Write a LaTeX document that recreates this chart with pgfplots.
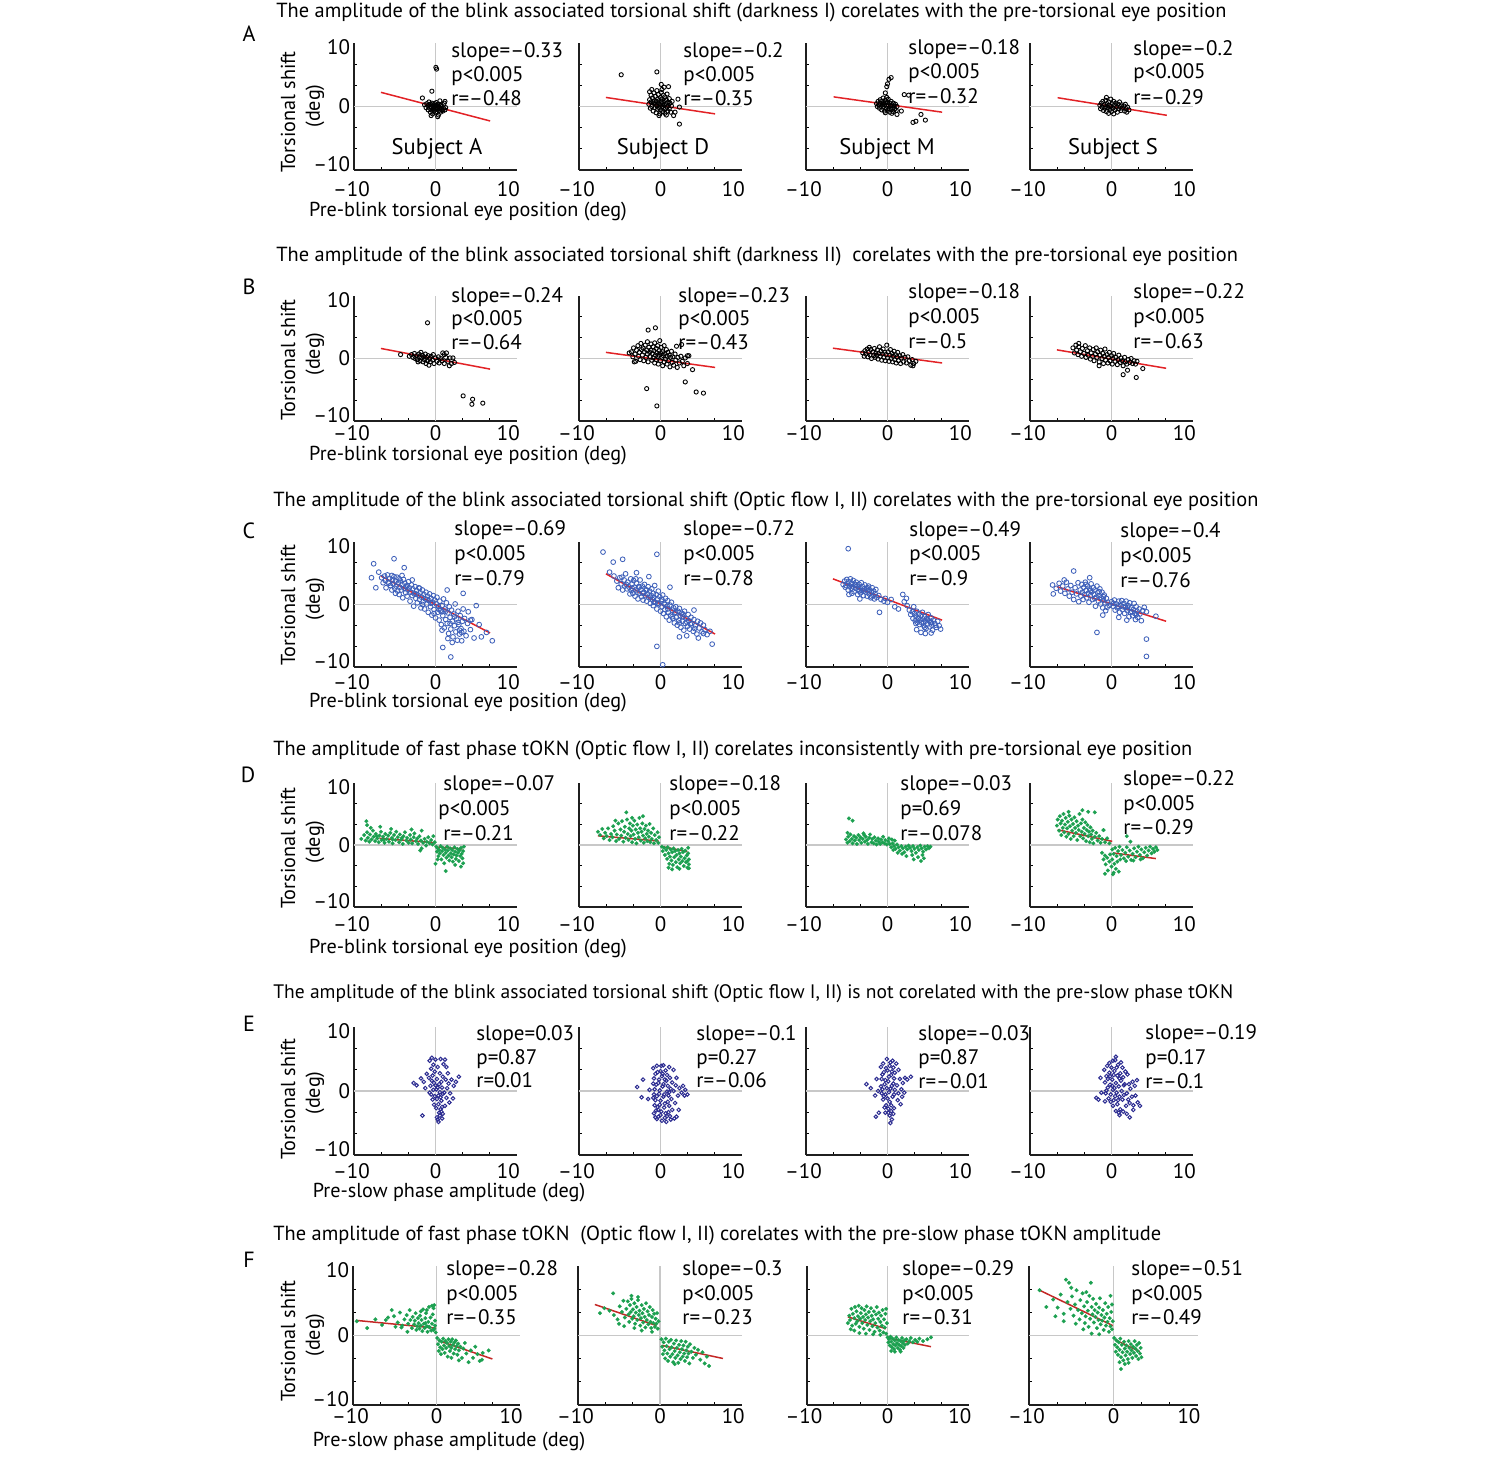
\documentclass[border=0pt]{standalone}
\usepackage{fontspec}
\setmainfont{PT Sans}
\usepackage{pgfplots}
\pgfplotsset{compat=1.18}
\definecolor{ptblue}{RGB}{62,96,186}
\definecolor{navy}{RGB}{44,44,145}
\definecolor{grn}{RGB}{28,160,80}
\definecolor{rline}{RGB}{226,34,38}
\definecolor{rdark}{RGB}{196,40,38}
\definecolor{zgray}{RGB}{200,200,200}
\newcommand\tkf{\fontsize{10.5}{12}\selectfont}
\newcommand\labf{\fontsize{10.1}{12}\selectfont}
\newcommand\ttlf{\fontsize{10.2}{12}\selectfont}
\newcommand\subf{\fontsize{11.3}{13}\selectfont}
\newcommand\letf{\fontsize{11}{13}\selectfont}
\pgfplotsset{
  base/.style={
    scale only axis, width=81.5pt, height=62.5pt, anchor=south west,
    xmin=-11.2, xmax=11.2, ymin=-11.2, ymax=11.2,
    axis x line*=bottom, axis y line*=left,
    axis line style={line width=0.9pt, black!88},
    tick align=inside,
    xtick={-11.2,0,10}, xticklabels={–10\kern2.6pt,0,10},
    ytick={-10.2,0,10.5}, yticklabels={},
    major tick length=0pt,
    minor xtick={-7.4667,-3.7333,3.7333,7.4667},
    minor ytick={-7.4667,-3.7333,3.7333,7.4667},
    minor tick length=1.6pt,
    every tick/.append style={black, line width=0.5pt},
    tick label style={font=\tkf},
    xticklabel style={anchor=center},
    yticklabel style={anchor=east, inner sep=0pt, xshift=-1.8pt},
    clip=false,
  },
  ylab/.style={yticklabels={–10,0,10}},
  xs/.style={xticklabel style={yshift=#1}},
  ko/.style={only marks, black, mark=o, mark size=1.05pt, mark options={line width=0.45pt}},
  bo/.style={only marks, ptblue, mark=o, mark size=1.2pt, mark options={line width=0.42pt}},
  no/.style={only marks, navy, mark=o, mark size=0.9pt, mark options={line width=0.5pt}},
  gd/.style={only marks, grn, mark=*, mark size=0.95pt, mark options={fill=grn, draw=grn, line width=0.1pt}},
  rl/.style={no marks, rline, line width=0.75pt},
  rd/.style={no marks, rdark, line width=0.75pt},
}
\newcommand\zl{\addplot[zgray, line width=0.8pt, forget plot] coordinates {(-11.2,0) (11.2,0)};\addplot[zgray, line width=0.8pt, forget plot] coordinates {(0,-11.2) (0,11.2)};}
\tikzset{an/.style={anchor=base west, inner sep=0pt, font=\tkf},
 ttl/.style={anchor=base west, inner sep=0pt, font=\ttlf},
 xl/.style={anchor=base, inner sep=0pt, font=\labf},
 yl/.style={rotate=90, inner sep=0pt, font=\labf},
 lt/.style={anchor=base, inner sep=0pt, font=\letf}}
\begin{document}
\begin{tikzpicture}
\path[use as bounding box] (0pt,0pt) rectangle (750pt,-728.5pt);
%%%%%%%%%%%%%%%% ROW A
\begin{axis}[base, at={(177pt,-85pt)}, height=63.5pt, ylab, xs=-9.5pt]
\zl
\addplot[ko] coordinates {(-1.5,0.3)(-1.3,-0.2)(-1.2,0.5)(-1.0,-0.6)(-1.0,0.1)(-0.9,0.8)(-0.8,-0.3)(-0.7,-1.0)(-0.7,0.4)(-0.6,-0.1)(-0.5,0.6)(-0.5,-0.6)(-0.4,0.1)(-0.4,-1.3)(-0.3,-0.4)(-0.3,0.3)(-0.2,-0.8)(-0.2,0.0)(-0.1,0.5)(-0.1,-0.3)(0.0,-1.1)(0.0,0.2)(0.1,-0.5)(0.1,0.7)(0.2,-0.1)(0.2,-0.9)(0.3,0.3)(0.3,-0.4)(0.4,-1.5)(0.4,0.0)(0.5,-0.7)(0.5,0.4)(0.6,-0.2)(0.7,-1.0)(0.7,0.2)(0.8,-0.5)(0.9,0.0)(1.0,-0.8)(1.1,-0.3)(1.2,0.6)(1.3,-0.6)(1.4,-0.2)(0.3,-1.8)(-0.6,-1.6)(0.05,6.9)(0.15,6.6)(-0.5,2.7)(-1.8,1.5)(1.3,0.9)(0.6,1.0)};
\addplot[rl] coordinates {(-7.5,2.5) (7.5,-2.55)};
\end{axis}
\begin{axis}[base, at={(289.5pt,-85pt)}, height=63.5pt, xs=-9.5pt]
\zl
\addplot[ko] coordinates {(-1.6,0.4)(-1.5,1.2)(-1.4,-0.3)(-1.3,0.8)(-1.3,2.0)(-1.2,0.0)(-1.1,1.5)(-1.0,-0.8)(-1.0,0.6)(-0.9,2.4)(-0.9,1.0)(-0.8,-0.2)(-0.7,0.4)(-0.7,1.8)(-0.6,-1.1)(-0.6,0.9)(-0.5,0.1)(-0.5,2.8)(-0.4,1.3)(-0.4,-0.5)(-0.3,0.6)(-0.3,2.1)(-0.2,-0.2)(-0.2,1.0)(-0.1,-1.3)(-0.1,0.3)(0.0,1.6)(0.0,-0.6)(0.1,0.8)(0.1,2.5)(0.2,0.0)(0.2,1.3)(0.3,-0.9)(0.3,0.5)(0.4,2.0)(0.4,-0.3)(0.5,1.0)(0.5,0.2)(0.6,-1.2)(0.6,1.7)(0.7,0.5)(0.7,-0.4)(0.8,1.2)(0.9,-0.1)(0.9,2.2)(1.0,0.7)(1.0,-0.8)(1.1,0.2)(1.2,1.4)(1.2,-0.4)(1.3,0.6)(1.4,-1.0)(1.5,0.1)(1.6,0.9)(0.2,3.0)(-0.2,-1.6)(0.8,-1.5)(-5.4,5.6)(-0.5,6.1)(1.1,3.5)(2.4,1.3)(2.6,-0.1)(2.6,-3.1)(1.8,-1.6)(2.0,-1.0)(-1.5,2.6)(-1.2,3.0)(0.1,3.9)(0.5,3.4)};
\addplot[rl] coordinates {(-7.5,1.6) (7.5,-1.3)};
\end{axis}
\begin{axis}[base, at={(403pt,-85pt)}, height=63.5pt, xs=-9.5pt]
\zl
\addplot[ko] coordinates {(-1.5,0.5)(-1.4,0.0)(-1.3,0.9)(-1.2,0.3)(-1.1,-0.3)(-1.0,1.2)(-1.0,0.6)(-0.9,0.0)(-0.8,0.9)(-0.8,-0.6)(-0.7,0.4)(-0.6,1.5)(-0.6,-0.1)(-0.5,0.7)(-0.4,-0.8)(-0.4,0.3)(-0.3,1.1)(-0.2,-0.3)(-0.2,0.6)(-0.1,1.6)(-0.1,0.1)(0.0,-0.7)(0.0,0.8)(0.1,0.3)(0.1,1.3)(0.2,-0.4)(0.3,0.6)(0.3,-1.0)(0.4,0.1)(0.5,0.9)(0.5,-0.5)(0.6,0.3)(0.7,-0.2)(0.8,0.6)(0.8,-0.9)(0.9,0.1)(1.0,-0.4)(1.1,0.4)(1.2,-0.7)(1.3,0.0)(0.6,-1.2)(-0.3,-1.1)(0.2,4.8)(0.5,5.1)(0.0,4.0)(-0.1,3.5)(2.3,2.1)(2.9,2.0)(3.9,-2.6)(4.6,-1.4)(3.5,-2.8)(5.2,-2.4)(1.3,-1.4)(1.9,-0.8)(-0.3,2.4)};
\addplot[rl] coordinates {(-7.4,1.7) (7.5,-1.0)};
\end{axis}
\begin{axis}[base, at={(515pt,-85pt)}, height=63.5pt, xs=-9.5pt]
\zl
\addplot[ko] coordinates {(-1.6,0.2)(-1.5,-0.4)(-1.4,0.6)(-1.3,-0.1)(-1.2,0.9)(-1.1,-0.7)(-1.0,0.3)(-0.9,-0.3)(-0.8,1.1)(-0.8,0.0)(-0.7,-0.9)(-0.6,0.5)(-0.5,-0.2)(-0.4,0.8)(-0.4,-1.2)(-0.3,0.2)(-0.2,-0.5)(-0.1,1.3)(-0.1,0.0)(0.0,-0.9)(0.1,0.5)(0.2,-0.3)(0.3,0.9)(0.3,-1.3)(0.4,0.2)(0.5,-0.6)(0.6,0.6)(0.7,-0.1)(0.8,-1.0)(0.9,0.4)(1.0,-0.4)(1.1,0.8)(1.2,0.0)(1.3,-0.7)(1.4,0.3)(1.5,-0.3)(1.7,0.1)(1.8,-0.8)(1.9,0.4)(2.0,-0.4)(2.2,-0.1)(2.4,-0.6)(-0.7,1.6)(2.1,-1.0)};
\addplot[rl] coordinates {(-7.4,1.55) (7.6,-1.55)};
\end{axis}
%%%%%%%%%%%%%%%% ROW B
\begin{axis}[base, at={(177pt,-210.5pt)}, height=62.5pt, ylab, xs=-6.3pt]
\zl
\addplot[ko] coordinates {(-3.6,0.4)(-3.3,0.7)(-3.1,0.2)(-2.9,0.9)(-2.8,0.0)(-2.6,0.5)(-2.5,-0.2)(-2.3,0.8)(-2.2,0.3)(-2.1,-0.4)(-2.0,1.1)(-1.9,0.1)(-1.8,0.6)(-1.7,-0.6)(-1.6,0.3)(-1.5,-0.2)(-1.4,0.8)(-1.3,-0.9)(-1.2,0.2)(-1.1,-0.4)(-1.0,0.5)(-0.9,-1.2)(-0.8,0.0)(-0.7,-0.6)(-0.6,0.4)(-0.4,-0.3)(-0.3,0.7)(-0.2,-0.9)(0.0,0.1)(0.2,-0.5)(0.4,0.3)(0.5,-0.8)(0.7,0.0)(0.9,-0.4)(1.0,1.0)(1.2,-0.9)(1.4,0.2)(1.5,1.0)(1.7,-0.5)(1.9,-1.3)(2.0,0.1)(2.2,-0.9)(2.4,0.1)(2.6,-0.7)(1.2,0.7)(-2.4,-0.6)(-4.8,0.7)(-1.1,6.4)(3.8,-6.7)(5.1,-7.3)(5.0,-8.2)(6.5,-8.0)};
\addplot[rl] coordinates {(-7.5,1.8) (7.5,-1.9)};
\end{axis}
\begin{axis}[base, at={(289.5pt,-210.5pt)}, height=62.5pt, xs=-6.3pt]
\zl
\addplot[ko] coordinates {(-4.0,1.2)(-3.8,0.3)(-3.7,1.9)(-3.5,0.8)(-3.4,-0.5)(-3.3,1.5)(-3.1,2.3)(-3.0,0.4)(-2.9,1.1)(-2.8,-0.2)(-2.7,2.7)(-2.6,1.6)(-2.5,0.6)(-2.4,1.9)(-2.3,-0.4)(-2.2,1.2)(-2.1,2.4)(-2.0,0.2)(-1.9,1.5)(-1.8,0.8)(-1.8,3.0)(-1.7,-0.6)(-1.6,2.0)(-1.5,1.1)(-1.4,0.3)(-1.3,2.6)(-1.3,1.5)(-1.2,-0.3)(-1.1,0.9)(-1.0,2.1)(-1.0,0.1)(-0.9,1.4)(-0.8,-0.8)(-0.8,2.8)(-0.7,0.6)(-0.6,1.8)(-0.6,-0.2)(-0.5,1.0)(-0.4,2.3)(-0.4,0.3)(-0.3,-1.0)(-0.2,1.4)(-0.2,0.6)(-0.1,3.2)(0.0,-0.4)(0.0,1.0)(0.1,2.0)(0.2,0.2)(0.3,-1.3)(0.3,1.2)(0.4,0.5)(0.5,2.3)(0.5,-0.6)(0.6,0.9)(0.7,-0.1)(0.8,1.6)(0.9,-1.0)(0.9,0.4)(1.0,1.1)(1.1,-0.4)(1.2,0.6)(1.3,-1.5)(1.4,0.2)(1.5,1.3)(1.6,-0.7)(1.7,0.3)(1.8,-1.2)(2.0,0.8)(2.1,-0.3)(2.3,-1.6)(2.4,0.2)(2.6,-0.8)(2.8,0.4)(3.0,-0.5)(3.2,-1.3)(3.4,0.1)(3.7,-0.9)(3.9,0.5)(-1.7,5.1)(-0.7,5.5)(-1.9,-5.4)(-0.5,-8.5)(3.4,-4.2)(4.4,-2.0)(4.9,-6.0)(5.9,-6.2)(2.2,2.2)(3.7,0.5)(-3.6,-0.6)(-4.3,1.0)(2.9,2.5)};
\addplot[rl] coordinates {(-7.5,1.1) (7.5,-1.6)};
\end{axis}
\begin{axis}[base, at={(403pt,-210.5pt)}, height=62.5pt, xs=-6.3pt]
\zl
\addplot[ko] coordinates {(-3.4,1.0)(-3.2,0.4)(-3.1,1.4)(-3.0,0.8)(-2.8,1.7)(-2.7,0.3)(-2.6,1.1)(-2.4,0.6)(-2.3,1.6)(-2.2,0.0)(-2.0,1.2)(-1.9,0.5)(-1.8,1.8)(-1.7,0.2)(-1.6,1.0)(-1.5,0.6)(-1.4,1.5)(-1.3,-0.1)(-1.2,0.9)(-1.1,2.1)(-1.0,0.4)(-0.9,1.3)(-0.8,-0.3)(-0.7,0.8)(-0.6,1.7)(-0.5,0.2)(-0.4,1.1)(-0.3,-0.4)(-0.2,0.7)(-0.1,2.4)(0.0,0.1)(0.1,1.2)(0.2,-0.5)(0.3,0.6)(0.4,1.6)(0.5,0.0)(0.6,0.9)(0.7,-0.6)(0.8,0.4)(0.9,1.3)(1.0,-0.2)(1.1,0.7)(1.2,-0.8)(1.3,0.3)(1.4,1.1)(1.5,-0.4)(1.7,0.5)(1.8,-0.9)(1.9,0.1)(2.1,0.7)(2.2,-0.6)(2.4,0.2)(2.6,-0.8)(2.8,0.3)(3.0,-0.4)(3.2,-1.2)(3.4,-0.2)(3.6,-0.9)(3.9,-0.5)(3.5,-1.3)(-2.5,2.0)};
\addplot[rl] coordinates {(-7.5,1.85) (7.5,-0.8)};
\end{axis}
\begin{axis}[base, at={(515pt,-210.5pt)}, height=62.5pt, xs=-6.3pt]
\zl
\addplot[ko] coordinates {(-5.3,1.9)(-5.1,1.0)(-4.9,2.4)(-4.8,1.5)(-4.6,0.7)(-4.5,2.1)(-4.3,1.2)(-4.1,0.4)(-4.0,1.8)(-3.8,0.9)(-3.6,2.3)(-3.5,0.2)(-3.3,1.4)(-3.2,0.6)(-3.0,1.9)(-2.9,-0.1)(-2.8,1.0)(-2.6,0.4)(-2.5,1.6)(-2.4,-0.4)(-2.2,0.8)(-2.1,1.9)(-2.0,0.2)(-1.9,1.2)(-1.7,-0.6)(-1.6,0.6)(-1.5,1.5)(-1.3,0.0)(-1.2,0.9)(-1.1,-0.9)(-1.0,0.4)(-0.9,1.7)(-0.8,-0.3)(-0.6,0.7)(-0.5,-0.8)(-0.4,0.2)(-0.3,1.1)(-0.2,-0.4)(0.0,0.5)(0.1,-1.0)(0.2,0.0)(0.3,0.9)(0.5,-0.5)(0.6,0.2)(0.8,-1.1)(0.9,-0.2)(1.0,0.6)(1.2,-0.7)(1.3,0.1)(1.5,-0.4)(1.6,-1.3)(1.8,0.2)(1.9,-0.6)(2.1,-1.0)(2.3,-0.2)(2.5,-0.7)(2.7,0.0)(2.9,-0.9)(3.1,-0.4)(3.3,-1.0)(3.5,-0.5)(1.6,-2.9)(3.4,-3.4)(4.3,-1.8)(-4.5,2.7)(-1.7,-1.3)(2.2,-2.1)};
\addplot[rl] coordinates {(-7.5,1.55) (7.5,-1.75)};
\end{axis}
%%%%%%%%%%%%%%%% ROW C
\begin{axis}[base, at={(177pt,-333.5pt)}, height=62.5pt, ylab, xs=-7.6pt]
\zl
\addplot[bo] coordinates {(-7.4,4.8)(-7.2,3.9)(-7.0,5.1)(-6.9,4.3)(-6.8,3.0)(-6.6,5.3)(-6.5,4.0)(-6.3,4.7)(-6.2,3.4)(-6.0,5.2)(-6.0,2.6)(-5.9,4.4)(-5.8,3.7)(-5.7,5.0)(-5.6,2.9)(-5.5,4.2)(-5.4,3.3)(-5.3,4.9)(-5.2,2.4)(-5.1,3.9)(-5.0,4.6)(-5.0,1.8)(-4.9,3.1)(-4.8,4.2)(-4.7,2.6)(-4.6,3.6)(-4.5,1.2)(-4.4,4.5)(-4.3,2.9)(-4.2,3.8)(-4.1,2.1)(-4.0,3.2)(-3.9,1.5)(-3.8,2.6)(-3.7,4.1)(-3.6,3.0)(-3.5,0.6)(-3.4,2.2)(-3.3,3.5)(-3.2,1.6)(-3.1,2.8)(-3.0,-0.3)(-2.9,1.9)(-2.8,3.2)(-2.7,1.1)(-2.6,2.5)(-2.5,0.3)(-2.4,1.7)(-2.3,3.0)(-2.2,0.9)(-2.1,2.1)(-2.0,-0.6)(-1.9,1.3)(-1.8,2.6)(-1.7,0.5)(-1.6,1.8)(-1.5,-0.8)(-1.4,1.0)(-1.3,2.2)(-1.2,0.1)(-1.1,1.5)(-1.0,-1.4)(-0.9,0.7)(-0.8,1.9)(-0.7,-0.4)(-0.6,1.1)(-0.5,-1.9)(-0.4,0.4)(-0.3,1.6)(-0.2,-0.9)(-0.1,0.8)(0.0,-2.4)(0.1,0.1)(0.2,1.3)(0.3,-1.4)(0.4,-0.3)(0.5,-2.8)(0.6,0.6)(0.7,-1.1)(0.8,-3.6)(0.9,-0.2)(1.0,-2.0)(1.1,1.0)(1.2,-4.2)(1.3,-0.8)(1.4,-2.7)(1.5,0.3)(1.6,-3.4)(1.7,-1.5)(1.8,-5.2)(1.9,-0.4)(2.0,-2.3)(2.1,-4.4)(2.2,-1.0)(2.3,-3.0)(2.4,-5.8)(2.5,-1.7)(2.6,-3.8)(2.7,0.1)(2.8,-4.9)(2.9,-2.6)(3.0,-6.4)(3.1,-1.2)(3.2,-3.6)(3.3,-5.3)(3.4,-2.0)(3.5,-4.3)(3.6,-6.5)(3.7,-3.0)(3.8,-0.8)(3.9,-4.8)(4.0,-2.5)(4.2,-5.6)(4.4,-3.4)(4.5,-1.3)(4.8,-4.5)(5.0,-2.7)(5.3,-6.0)(5.6,-0.2)(6.0,-3.6)(6.3,-5.8)(7.0,-5.0)(7.8,-6.5)(4.8,-2.8)(-8.5,7.3)(-5.7,8.2)(-4.3,6.6)(-8.8,4.8)(-8.2,3.0)(2.1,-9.4)(1.0,-7.7)(3.3,-4.6)(3.8,2.0)(1.6,2.6)(-7.8,5.8)(-6.4,3.8)(-5.5,2.0)(-4.6,5.2)(-3.9,3.4)(-3.2,4.4)(-2.7,1.9)(-2.2,2.9)(-1.8,0.0)(-1.2,0.9)(-0.6,0.2)(-0.2,-1.6)(0.5,-0.9)(0.9,-1.3)(1.4,-1.2)(2.0,-3.4)(2.6,-2.2)(3.1,-3.2)(3.6,-5.0)(2.3,-6.8)(1.7,-6.1)(0.9,-4.6)};
\addplot[rl] coordinates {(-7.5,5.1) (7.5,-5.1)};
\end{axis}
\begin{axis}[base, at={(289.5pt,-333.5pt)}, height=62.5pt, xs=-7.6pt]
\zl
\addplot[bo] coordinates {(-6.4,5.1)(-6.0,4.2)(-5.8,3.0)(-5.6,4.8)(-5.4,3.7)(-5.2,2.6)(-5.0,4.4)(-4.9,3.3)(-4.8,5.5)(-4.6,2.8)(-4.5,4.0)(-4.3,3.1)(-4.2,1.9)(-4.1,4.6)(-4.0,2.5)(-3.9,3.7)(-3.8,2.0)(-3.7,4.3)(-3.6,3.1)(-3.5,1.5)(-3.4,2.6)(-3.3,3.8)(-3.2,2.2)(-3.1,1.0)(-3.0,3.2)(-2.9,2.0)(-2.8,4.4)(-2.7,2.7)(-2.6,1.4)(-2.5,3.3)(-2.4,0.8)(-2.3,2.2)(-2.2,3.6)(-2.1,1.6)(-2.0,2.6)(-1.9,0.6)(-1.8,1.9)(-1.7,3.2)(-1.6,1.2)(-1.5,2.4)(-1.4,0.2)(-1.3,1.6)(-1.2,2.8)(-1.1,0.9)(-1.0,-0.2)(-1.0,2.0)(-0.9,1.3)(-0.8,3.4)(-0.7,0.4)(-0.6,1.8)(-0.5,-0.8)(-0.4,1.0)(-0.3,2.4)(-0.2,0.1)(-0.1,1.4)(0.0,-1.2)(0.1,0.6)(0.2,-0.4)(0.3,1.7)(0.4,-1.6)(0.5,0.2)(0.6,-0.9)(0.7,1.1)(0.8,-2.2)(0.9,-0.3)(1.0,0.7)(1.1,-1.4)(1.2,-2.8)(1.3,-0.1)(1.4,-1.9)(1.5,0.4)(1.6,-1.0)(1.7,-2.5)(1.8,-0.6)(1.9,-3.3)(2.0,-1.5)(2.1,-0.4)(2.2,-2.3)(2.3,-3.7)(2.4,-1.2)(2.5,-2.8)(2.6,-0.7)(2.7,-2.0)(2.8,-4.1)(2.9,-1.6)(3.0,-3.0)(3.1,-2.2)(3.2,-4.6)(3.3,-1.2)(3.4,-3.4)(3.5,-2.5)(3.7,-3.9)(3.8,-1.8)(3.9,-2.9)(4.0,-4.4)(4.2,-2.3)(4.3,-3.4)(4.5,-4.8)(4.6,-2.7)(4.8,-3.8)(5.0,-5.3)(5.1,-3.0)(5.3,-4.2)(5.5,-3.3)(5.7,-4.9)(5.9,-3.7)(6.1,-4.5)(6.4,-5.4)(6.8,-4.8)(5.2,-6.0)(-7.9,9.4)(-6.5,7.6)(-5.2,8.1)(-0.5,9.0)(-0.5,-7.5)(0.3,-10.8)(7.1,-7.1)(5.9,-5.2)(-7.0,5.8)(2.6,-5.8)(3.6,-5.6)(1.3,3.1)(-3.3,5.7)(-1.6,5.0)(4.6,-1.0)(-5.3,4.9)(-4.7,3.6)(-3.9,2.9)(-3.4,4.6)(-2.9,3.1)(-2.4,2.0)(-1.9,2.6)(-1.4,1.3)(-0.9,0.4)(-0.4,0.2)(0.2,0.9)(0.6,0.0)(1.0,-0.8)(1.6,-2.2)(2.1,-1.4)(2.6,-3.3)(3.1,-1.7)(3.6,-3.1)(4.1,-3.5)(4.7,-4.3)};
\addplot[rl] coordinates {(-7.5,5.5) (7.5,-5.3)};
\end{axis}
\begin{axis}[base, at={(403pt,-333.5pt)}, height=62.5pt, xs=-7.6pt]
\zl
\addplot[bo] coordinates {(-6.1,3.6)(-5.9,4.2)(-5.8,3.1)(-5.6,4.5)(-5.5,3.7)(-5.4,2.6)(-5.3,4.1)(-5.2,3.3)(-5.1,4.6)(-5.0,2.9)(-4.9,3.8)(-4.8,3.2)(-4.7,4.3)(-4.6,2.3)(-4.5,3.5)(-4.4,2.9)(-4.3,4.0)(-4.2,3.3)(-4.1,1.8)(-4.0,2.7)(-3.9,3.6)(-3.8,3.0)(-3.7,2.1)(-3.6,3.9)(-3.5,2.5)(-3.4,3.2)(-3.3,1.6)(-3.2,2.8)(-3.1,3.5)(-3.0,2.2)(-2.9,2.9)(-2.8,1.5)(-2.7,2.5)(-2.6,3.3)(-2.5,1.9)(-2.4,2.6)(-2.3,1.2)(-2.2,2.2)(-2.1,3.0)(-2.0,1.6)(-1.9,2.4)(-1.8,1.0)(-1.7,1.9)(-1.6,2.7)(-1.5,1.3)(-5.3,1.8)(-3.8,1.0)(-4.9,2.0)(-1.2,1.6)(-0.9,0.9)(-1.1,-1.4)(-0.5,0.6)(0.0,0.4)(0.5,0.9)(1.0,-0.4)(1.5,-0.8)(2.1,1.8)(2.6,1.1)(2.7,-0.2)(2.3,0.5)(-0.3,1.1)(3.0,-1.0)(3.2,-1.8)(3.4,-1.3)(3.5,-2.5)(3.7,-1.6)(3.8,-2.9)(3.9,-2.1)(4.0,-1.2)(4.1,-3.2)(4.2,-2.4)(4.3,-1.7)(4.4,-3.6)(4.5,-2.8)(4.6,-2.0)(4.7,-3.3)(4.8,-1.4)(4.9,-2.6)(5.0,-3.8)(5.1,-2.2)(5.2,-3.0)(5.3,-4.3)(5.4,-2.5)(5.5,-3.5)(5.6,-1.8)(5.7,-2.9)(5.8,-4.0)(5.9,-3.2)(6.0,-2.4)(6.1,-3.7)(6.2,-4.6)(6.3,-2.8)(6.5,-3.4)(6.7,-4.1)(6.9,-3.0)(7.1,-3.8)(7.3,-4.4)(4.0,-4.5)(4.6,-5.0)(5.2,-5.2)(3.6,-0.4)(-5.4,10.0)(6.0,-5.1)(-5.7,3.4)(-5.0,3.7)(-4.4,3.6)(-3.9,2.4)(-3.3,2.4)(-2.7,3.0)(-2.2,1.4)(4.3,-2.5)(4.9,-3.3)(5.5,-2.7)(6.0,-3.2)(5.1,-4.1)(3.9,-3.4)(6.6,-3.7)};
\addplot[rl] coordinates {(-7.5,4.6) (7.5,-2.8)};
\end{axis}
\begin{axis}[base, at={(515pt,-333.5pt)}, height=62.5pt, xs=-7.6pt]
\zl
\addplot[bo] coordinates {(-8.1,3.5)(-8.0,1.9)(-7.6,2.9)(-7.2,3.8)(-7.0,2.4)(-6.7,3.3)(-6.4,2.0)(-6.2,4.0)(-6.0,2.8)(-5.8,1.5)(-5.6,3.4)(-5.4,2.2)(-5.2,0.9)(-5.0,3.0)(-4.8,1.9)(-4.6,3.9)(-4.5,0.5)(-4.3,2.6)(-4.2,1.5)(-4.1,3.6)(-4.0,2.2)(-3.9,0.9)(-3.8,3.1)(-3.7,1.8)(-3.6,4.0)(-3.5,2.5)(-3.4,1.2)(-3.3,3.3)(-3.2,2.0)(-3.1,0.4)(-3.0,2.8)(-2.9,1.6)(-2.8,3.7)(-2.7,2.3)(-2.6,0.9)(-2.5,3.0)(-2.4,1.8)(-2.3,2.6)(-2.2,-0.3)(-2.1,1.3)(-2.0,3.3)(-1.9,2.1)(-1.8,0.6)(-1.7,1.6)(-1.6,2.8)(-1.5,0.1)(-1.4,1.2)(-1.3,2.2)(-1.2,-0.6)(-1.1,0.8)(-1.0,1.7)(-0.9,0.3)(-0.8,-1.1)(-0.7,1.1)(-0.5,0.4)(-0.3,-0.2)(0.0,0.5)(0.2,-0.3)(0.4,0.8)(0.5,-1.0)(0.7,0.1)(0.8,-0.6)(1.0,0.6)(1.1,-1.4)(1.3,-0.2)(1.4,0.7)(1.5,-0.9)(1.7,0.2)(1.8,-1.6)(1.9,-0.5)(2.0,0.6)(2.2,-1.1)(2.3,-0.2)(2.4,-2.2)(2.5,0.3)(2.6,-1.4)(2.7,-0.6)(2.9,-2.0)(3.0,-0.9)(3.1,0.2)(3.2,-1.6)(3.3,-2.7)(3.4,-0.4)(3.5,-1.2)(3.6,-2.3)(3.8,-0.8)(3.9,-1.7)(4.1,-2.9)(4.3,-1.1)(4.5,-0.5)(4.8,-1.3)(1.0,-2.3)(2.1,-2.8)(-5.2,6.0)(-2.0,-5.0)(4.8,-6.2)(4.8,-9.3)(6.1,-2.1)(-6.5,4.4)(-3.0,4.8)(-1.2,-1.9)(-3.5,3.6)(-2.9,2.5)(-2.3,1.1)(-1.7,2.3)(-1.1,1.4)(-0.6,-0.5)(0.3,0.2)(0.9,-0.3)(1.6,-0.4)(2.2,-0.6)(2.8,-1.3)(3.4,-1.8)};
\addplot[rl] coordinates {(-7.5,3.2) (7.5,-3.0)};
\end{axis}
%%%%%%%%%%%%%%%% ROW D
\begin{axis}[base, at={(177pt,-453.5pt)}, height=62pt, ylab, xs=-8.6pt]
\zl
\addplot[gd] coordinates {(-10.2,1.1)(-9.8,1.8)(-9.6,0.8)(-9.4,2.3)(-9.3,1.3)(-9.1,0.6)(-9.0,1.9)(-8.8,1.0)(-8.6,2.6)(-8.5,1.5)(-8.3,0.7)(-8.2,2.0)(-8.0,1.2)(-7.8,0.5)(-7.7,1.7)(-7.5,2.4)(-7.4,0.9)(-7.2,1.5)(-7.0,0.4)(-6.9,2.0)(-6.7,1.1)(-6.5,1.7)(-6.4,0.6)(-6.2,2.2)(-6.0,1.3)(-5.9,0.3)(-5.7,1.8)(-5.5,0.9)(-5.4,2.4)(-5.2,1.4)(-5.0,0.5)(-4.9,1.9)(-4.7,1.0)(-4.5,0.2)(-4.4,1.6)(-4.2,2.3)(-4.0,0.8)(-3.9,1.3)(-3.7,0.4)(-3.5,1.8)(-3.4,1.0)(-3.2,0.3)(-3.0,1.4)(-2.9,2.1)(-2.7,0.7)(-2.5,1.2)(-2.4,0.2)(-2.2,1.6)(-2.0,0.8)(-1.9,2.6)(-1.7,0.4)(-1.5,1.1)(-1.3,-0.1)(-1.2,0.6)(-1.0,1.4)(-0.8,0.3)(-0.6,0.9)(-0.4,0.1)(-0.3,1.6)(-0.1,0.5)(-8.9,3.1)(-7.6,3.3)(-6.1,2.9)(-3.3,2.8)(-2.1,-1.0)(-1.9,-0.6)(-4.6,1.3)(-5.9,1.0)(-7.1,0.9)(-8.1,1.6)(-9.5,4.3)(-9.4,3.6)(0.1,-0.3)(0.2,-1.2)(0.3,-0.6)(0.4,-2.0)(0.5,-0.9)(0.6,-1.5)(0.7,-0.2)(0.8,-2.6)(0.9,-1.1)(1.0,-0.5)(1.1,-1.8)(1.2,-3.3)(1.3,-0.8)(1.4,-1.4)(1.5,-2.3)(1.6,-0.3)(1.7,-1.0)(1.8,-1.9)(1.9,-2.8)(2.0,-0.6)(2.1,-1.5)(2.2,-2.2)(2.3,-0.9)(2.4,-3.0)(2.5,-1.7)(2.6,-0.4)(2.7,-1.2)(2.8,-2.5)(2.9,-1.9)(3.0,-0.7)(3.1,-1.4)(3.2,-2.9)(3.3,-1.0)(3.4,-2.0)(3.5,-0.5)(3.6,-1.6)(3.7,-2.4)(3.8,-1.1)(3.9,-0.3)(3.8,-3.3)(3.5,-3.9)(1.4,-4.7)(0.0,-3.4)(0.3,-2.6)(2.7,-3.6)};
\addplot[rd] coordinates {(-7.7,1.2) (-0.1,0.42)};
\addplot[rd] coordinates {(0.4,-0.36) (3.7,-0.72)};
\end{axis}
\begin{axis}[base, at={(289.5pt,-453.5pt)}, height=62pt, xs=-8.6pt]
\zl
\addplot[gd] coordinates {(-8.6,2.4)(-8.3,1.8)(-8.0,2.9)(-7.8,1.2)(-7.6,2.2)(-7.4,1.6)(-7.2,3.0)(-7.0,0.9)(-6.8,2.0)(-6.6,1.4)(-6.5,3.4)(-6.3,2.6)(-6.1,0.7)(-6.0,1.9)(-5.8,3.9)(-5.7,1.1)(-5.5,2.8)(-5.4,1.7)(-5.3,4.3)(-5.1,0.6)(-5.0,2.4)(-4.9,3.3)(-4.8,1.3)(-4.6,4.6)(-4.5,2.0)(-4.4,0.9)(-4.3,3.0)(-4.2,3.9)(-4.1,1.6)(-4.0,2.6)(-3.9,0.5)(-3.8,3.5)(-3.7,1.9)(-3.6,4.4)(-3.5,1.1)(-3.4,2.8)(-3.3,0.3)(-3.2,3.7)(-3.1,2.2)(-3.0,1.4)(-2.9,4.9)(-2.8,3.0)(-2.7,0.8)(-2.6,2.4)(-2.5,3.9)(-2.4,1.7)(-2.3,0.4)(-2.2,2.9)(-2.1,1.2)(-2.0,3.5)(-1.9,2.0)(-1.8,0.7)(-1.7,2.6)(-1.6,1.5)(-1.5,3.8)(-1.4,0.5)(-1.3,2.2)(-1.2,1.1)(-1.0,3.0)(-0.9,0.3)(-0.8,1.8)(-0.6,0.9)(-0.4,2.3)(-0.3,0.4)(-0.2,1.4)(-4.7,5.9)(-6.2,4.4)(-3.9,4.9)(-2.4,5.2)(0.2,-0.3)(0.3,-1.1)(0.5,-0.5)(0.6,-1.8)(0.8,-0.9)(0.9,-2.5)(1.0,-0.4)(1.1,-1.5)(1.2,-3.4)(1.3,-2.1)(1.4,-0.8)(1.5,-2.8)(1.6,-1.3)(1.7,-3.6)(1.8,-0.6)(1.9,-2.2)(2.0,-1.1)(2.1,-3.1)(2.2,-1.8)(2.3,-4.0)(2.4,-0.9)(2.5,-2.6)(2.6,-1.5)(2.7,-3.3)(2.8,-2.1)(2.9,-0.7)(3.0,-2.9)(3.1,-1.3)(3.2,-3.8)(3.3,-2.4)(3.4,-1.0)(3.5,-3.1)(3.6,-1.9)(3.7,-4.1)(3.8,-0.5)(3.9,-2.6)(3.9,-3.5)(3.8,-1.5)(3.7,-2.9)(3.9,-4.2)(1.1,-4.1)(1.6,-4.4)(2.6,-4.3)};
\addplot[rd] coordinates {(-8.6,1.67) (-0.25,0.72)};
\addplot[rd] coordinates {(0.25,-0.3) (3.7,-1.2)};
\end{axis}
\begin{axis}[base, at={(403pt,-453.5pt)}, height=62pt, xs=-8.6pt]
\zl
\addplot[gd] coordinates {(-5.7,1.0)(-5.5,0.4)(-5.4,1.5)(-5.2,0.7)(-5.1,1.9)(-4.9,1.1)(-4.8,0.3)(-4.6,1.6)(-4.5,0.8)(-4.3,1.3)(-4.2,0.2)(-4.0,1.8)(-3.9,0.9)(-3.7,1.4)(-3.6,0.4)(-3.4,1.1)(-3.3,2.1)(-3.1,0.6)(-3.0,1.5)(-2.8,0.9)(-2.7,0.2)(-2.5,1.3)(-2.4,1.9)(-2.2,0.5)(-2.1,1.1)(-1.9,0.3)(-1.8,1.4)(-1.6,0.8)(-1.5,0.1)(-1.3,1.2)(-1.2,0.6)(-1.0,0.2)(-0.9,1.0)(-0.7,0.5)(-0.6,1.5)(-0.4,0.3)(-0.3,0.9)(-0.1,0.1)(0.1,0.7)(0.2,1.2)(-5.3,4.8)(-4.8,4.4)(-5.5,2.2)(-3.2,1.8)(0.3,0.2)(0.5,-0.4)(0.7,0.3)(0.9,-0.2)(1.1,-0.7)(1.3,0.1)(1.5,-0.4)(1.7,-1.0)(1.9,-0.2)(2.1,-0.6)(2.3,-1.3)(2.5,-0.3)(2.7,-0.8)(2.9,-0.1)(3.1,-0.5)(3.3,-1.1)(3.5,-0.2)(3.7,-0.7)(3.9,-1.4)(4.1,-0.4)(4.3,-0.9)(4.5,-0.1)(4.7,-0.6)(4.9,-1.2)(5.1,-0.3)(5.3,-0.8)(5.5,-0.2)(5.7,-0.6)(5.9,-0.3)(2.0,-1.6)(2.6,-2.0)(3.4,-1.8)(3.6,-2.6)(4.2,-2.2)(4.6,-2.9)(5.0,-2.4)(4.8,-1.8)(1.4,-1.4)(0.8,-0.9)(1.0,0.8)(0.6,1.0)};
\end{axis}
\begin{axis}[base, at={(515pt,-453.5pt)}, height=62pt, xs=-8.6pt]
\zl
\addplot[gd] coordinates {(-7.5,3.5)(-7.4,4.6)(-7.2,2.6)(-7.1,5.2)(-7.0,3.9)(-6.9,1.8)(-6.8,4.4)(-6.7,3.1)(-6.6,5.6)(-6.5,2.3)(-6.4,3.7)(-6.3,4.9)(-6.2,1.5)(-6.1,3.0)(-6.0,4.2)(-5.9,2.0)(-5.8,5.3)(-5.7,3.4)(-5.6,1.1)(-5.5,4.6)(-5.4,2.6)(-5.3,3.8)(-5.2,1.6)(-5.1,5.0)(-5.0,3.1)(-4.9,2.2)(-4.8,4.3)(-4.7,0.9)(-4.6,3.5)(-4.5,2.7)(-4.4,5.6)(-4.3,1.6)(-4.2,3.9)(-4.1,2.4)(-4.0,4.6)(-3.9,1.2)(-3.8,3.1)(-3.7,2.0)(-3.6,4.1)(-3.5,0.7)(-3.4,2.7)(-3.3,3.6)(-3.2,1.6)(-3.1,2.4)(-3.0,0.5)(-2.9,3.2)(-2.8,1.9)(-2.7,1.1)(-2.6,2.6)(-2.5,0.3)(-2.3,1.5)(-2.1,2.2)(-1.9,0.8)(-1.7,1.6)(-1.5,0.4)(-1.3,1.1)(-1.1,2.7)(-0.9,0.5)(-0.6,1.2)(-0.3,0.3)(-4.0,6.3)(-3.2,6.0)(-2.3,5.9)(-5.9,6.0)(0.1,-0.8)(0.3,-1.6)(0.5,-0.5)(0.7,-2.0)(0.9,-1.1)(1.1,-0.3)(1.3,-1.8)(1.5,-0.9)(1.7,-2.4)(1.9,-1.4)(2.1,-0.4)(2.3,-2.1)(2.5,-1.0)(2.7,-2.7)(2.9,-1.6)(3.1,-0.6)(3.3,-2.2)(3.5,-1.2)(3.7,-0.3)(3.9,-1.8)(4.1,-0.8)(4.3,-2.4)(4.5,-1.3)(4.7,-0.5)(4.9,-1.9)(5.1,-1.0)(5.3,-0.3)(5.5,-1.5)(5.7,-0.7)(5.9,-1.2)(6.1,-0.4)(6.3,-0.9)(2.0,-2.9)(3.0,-2.8)(4.0,-2.6)(1.2,-2.6)(-1.3,-1.4)(-1.1,-2.6)(-0.9,-1.9)(-0.8,-3.5)(-0.6,-2.3)(-0.5,-4.6)(-0.3,-3.0)(-0.2,-1.7)(0.0,-3.9)(0.1,-2.6)(0.3,-5.0)(0.4,-3.4)(0.6,-4.3)(0.8,-3.0)(1.0,-4.8)(0.2,-5.3)(-0.9,-5.2)(2.1,1.6)(-1.1,2.7)(2.6,0.6)};
\addplot[rd] coordinates {(-7.4,2.75) (0.1,0.66)};
\addplot[rd] coordinates {(0.23,-1.43) (6.1,-2.45)};
\end{axis}
%%%%%%%%%%%%%%%% ROW E
\begin{axis}[base, at={(177pt,-577.5pt)}, height=64pt, ylab, xs=-8pt]
\zl
\addplot[no] coordinates {(-0.8,5.3)(-0.6,3.9)(-0.5,5.8)(-0.4,2.7)(-0.3,4.6)(-0.2,1.4)(-0.1,3.4)(0.0,5.5)(0.1,0.3)(0.2,2.1)(0.3,4.2)(0.4,-0.8)(0.5,1.2)(0.6,3.1)(0.7,5.6)(0.8,-1.7)(0.9,0.6)(1.0,2.5)(1.1,4.7)(1.2,-0.3)(-0.7,0.9)(-0.6,-0.6)(-0.5,1.8)(-0.4,-1.5)(-0.3,0.2)(-0.2,-2.4)(-0.1,-0.9)(0.0,1.0)(0.1,-3.0)(0.2,-1.4)(0.3,0.6)(0.4,-2.3)(0.5,-3.8)(0.6,-0.2)(0.7,-1.1)(0.8,1.6)(0.9,-2.8)(1.0,-0.5)(-0.9,2.3)(-0.8,-0.3)(0.2,-4.6)(0.4,-5.4)(0.6,-4.3)(0.8,-3.6)(1.0,-4.0)(0.3,-5.0)(0.9,-4.8)(0.7,-3.2)(-3.0,1.4)(-2.6,1.0)(-2.0,2.2)(-1.6,1.6)(-1.4,0.5)(-1.2,3.0)(-1.8,-4.3)(1.4,2.0)(1.6,0.5)(1.8,1.3)(2.0,-0.4)(2.2,2.0)(2.5,0.9)(2.8,1.6)(3.2,2.5)(1.5,-1.2)(1.9,-2.0)(1.3,-2.6)(1.7,3.1)(2.4,-1.3)(1.3,5.5)(1.5,4.2)};
\end{axis}
\begin{axis}[base, at={(289.5pt,-577.5pt)}, height=64pt, xs=-8pt]
\zl
\addplot[no] coordinates {(-1.0,4.0)(-0.9,2.2)(-0.8,0.3)(-0.7,-1.6)(-0.6,-3.4)(-0.5,-4.9)(-0.4,3.3)(-0.3,1.4)(-0.2,-0.5)(-0.1,-2.4)(0.0,-4.2)(0.1,4.4)(0.2,2.6)(0.3,0.8)(0.4,-1.0)(0.5,-2.9)(0.6,-4.7)(0.7,3.6)(0.8,1.8)(0.9,-0.1)(1.0,-1.9)(1.1,-3.7)(1.2,4.2)(1.3,2.3)(1.4,0.4)(1.5,-1.4)(1.6,-3.3)(-0.9,-0.6)(-0.8,-2.5)(-0.7,3.0)(-0.6,1.1)(-0.5,-0.9)(-0.4,-2.8)(-0.3,-4.5)(-0.2,2.0)(-0.1,0.1)(0.0,-1.7)(0.1,-3.6)(0.2,-5.2)(0.3,3.0)(0.4,1.2)(0.5,-0.6)(0.6,-2.2)(0.7,-3.9)(0.8,-5.4)(0.9,2.8)(1.0,0.9)(1.1,-0.8)(1.2,-2.6)(1.3,-4.4)(-1.0,1.3)(-1.0,-1.2)(-0.9,-3.9)(1.4,-5.0)(1.6,1.5)(-0.5,4.4)(0.4,4.5)(-3.2,0.7)(-2.4,2.0)(-2.6,-1.1)(-1.7,-1.4)(-1.5,0.2)(1.8,0.0)(2.0,-2.1)(2.1,1.0)(2.4,-0.8)(2.6,0.5)(2.9,-0.3)(3.1,0.9)(3.4,0.2)(3.7,-0.6)(3.3,-0.8)(2.2,-4.5)(1.9,-4.8)(2.5,-3.3)(1.8,3.7)(2.2,2.3)(-0.7,-4.6)(0.0,3.5)(0.6,2.0)(1.2,-0.2)(-0.3,-3.3)(0.9,-4.4)};
\end{axis}
\begin{axis}[base, at={(403pt,-577.5pt)}, height=64pt, xs=-8pt]
\zl
\addplot[no] coordinates {(-0.9,4.2)(-0.8,2.1)(-0.7,0.3)(-0.6,-1.5)(-0.5,3.3)(-0.4,1.2)(-0.3,-0.6)(-0.2,-2.5)(-0.1,5.6)(0.0,3.6)(0.1,1.7)(0.2,-0.2)(0.3,-1.9)(0.4,5.0)(0.5,2.8)(0.6,0.9)(0.7,-1.0)(0.8,4.1)(0.9,2.2)(1.0,0.2)(-0.9,0.8)(-0.8,-0.4)(-0.7,2.9)(-0.6,4.8)(-0.5,-0.9)(-0.4,-2.9)(-0.3,1.9)(-0.2,4.0)(-0.1,0.5)(0.0,-1.3)(0.1,-3.1)(0.2,2.5)(0.3,4.4)(0.4,0.4)(0.5,-2.5)(0.6,3.4)(0.7,5.3)(0.8,1.3)(0.9,-0.6)(1.0,3.2)(0.1,-3.8)(0.3,-4.3)(0.5,-3.5)(0.6,-5.0)(0.4,-5.6)(0.8,-4.0)(0.9,-3.0)(-0.3,-3.8)(-1.2,-3.8)(-1.6,-4.5)(-2.9,1.2)(-2.3,0.5)(-1.5,2.1)(-1.3,0.0)(-1.7,-0.8)(1.3,1.0)(1.5,-0.4)(1.7,2.1)(1.9,0.3)(2.1,1.4)(2.4,2.3)(2.7,2.0)(3.2,2.5)(1.4,-1.6)(2.0,-1.0)(1.8,-2.3)(1.2,4.8)(1.5,3.7)(2.3,-0.3)};
\end{axis}
\begin{axis}[base, at={(515pt,-577.5pt)}, height=64pt, xs=-8pt]
\zl
\addplot[no] coordinates {(-1.0,3.7)(-0.9,1.5)(-0.8,-0.4)(-0.7,2.6)(-0.6,4.4)(-0.5,0.6)(-0.4,-1.3)(-0.3,3.2)(-0.2,1.1)(-0.1,-0.6)(0.0,4.1)(0.1,2.0)(0.2,0.2)(0.3,-1.6)(0.4,3.5)(0.5,5.4)(0.6,1.4)(0.7,-0.3)(0.8,2.7)(0.9,4.6)(1.0,0.8)(1.1,-1.0)(1.2,3.1)(1.3,1.8)(1.4,0.0)(1.5,4.1)(1.6,2.4)(1.7,-0.7)(1.8,1.2)(1.9,3.4)(-0.9,-1.8)(-0.7,0.1)(-0.5,2.1)(-0.3,4.9)(-0.1,-1.9)(0.1,0.9)(0.3,2.8)(0.5,-0.9)(0.7,4.1)(0.9,-1.6)(1.1,2.2)(1.3,5.0)(1.5,-1.5)(1.7,1.0)(-0.2,2.6)(0.4,0.5)(0.6,6.0)(0.2,5.3)(0.8,-2.3)(0.2,-2.6)(2.1,-0.4)(2.3,-1.5)(2.0,-2.6)(2.5,-2.1)(2.8,-1.0)(3.0,-2.5)(3.3,-0.8)(3.6,-2.0)(3.9,-2.6)(2.6,0.4)(2.9,1.6)(3.2,0.9)(3.5,1.9)(2.2,2.9)(2.4,1.2)(1.2,-3.2)(1.0,-3.8)(1.6,-3.6)(2.1,-4.0)(2.5,-4.6)(3.0,-3.3)(-1.8,-1.5)(-2.1,-1.2)(-1.5,2.3)(-1.4,-0.3)(1.1,-4.2)(0.6,-3.5)};
\end{axis}
%%%%%%%%%%%%%%%% ROW F
\begin{axis}[base, at={(176.5pt,-702.5pt)}, height=69.5pt, width=83.5pt, ylab, xs=-5.8pt]
\zl
\addplot[gd] coordinates {(-10.7,2.3)(-9.3,1.2)(-8.2,2.6)(-6.5,2.9)(-6.0,4.1)(-5.7,3.1)(-5.2,2.1)(-4.9,3.7)(-4.6,1.6)(-4.3,2.6)(-4.0,3.3)(-3.8,1.9)(-3.6,4.1)(-3.5,2.5)(-3.3,1.2)(-3.2,3.0)(-3.0,1.8)(-2.9,2.4)(-2.8,3.6)(-2.7,0.9)(-2.6,1.5)(-2.5,2.8)(-2.4,2.0)(-2.3,1.1)(-2.2,3.2)(-2.1,1.6)(-2.0,2.5)(-1.9,0.7)(-1.8,4.2)(-1.7,1.9)(-1.6,1.2)(-1.5,2.8)(-1.4,3.6)(-1.3,1.5)(-1.2,0.6)(-1.1,2.2)(-1.0,4.6)(-0.9,1.3)(-0.8,2.9)(-0.7,0.8)(-0.6,1.9)(-0.5,3.4)(-0.4,4.4)(-0.3,1.1)(-0.2,2.4)(-0.1,0.5)(-0.3,4.9)(-0.6,4.8)(-1.3,4.1)(-2.1,3.9)(-4.7,1.3)(-7.3,1.7)(-6.8,2.5)(-5.5,1.4)(-3.9,0.6)(-0.2,1.6)(-0.4,0.9)(-1.0,1.4)(-1.5,2.0)(0.1,-0.4)(0.2,-1.4)(0.3,-2.5)(0.4,-0.8)(0.5,-1.9)(0.6,-3.0)(0.7,-1.0)(0.8,-2.2)(0.9,-0.5)(1.0,-1.6)(1.1,-2.8)(1.2,-0.9)(1.3,-2.0)(1.4,-1.2)(1.5,-3.4)(1.6,-0.6)(1.7,-1.7)(1.8,-2.5)(1.9,-1.0)(2.0,-2.0)(2.1,-0.6)(2.2,-1.5)(2.3,-2.9)(2.4,-1.1)(2.5,-2.2)(2.6,-0.8)(2.7,-1.7)(2.8,-3.1)(2.9,-1.3)(3.0,-2.4)(3.2,-1.8)(3.4,-3.6)(3.6,-2.1)(3.8,-1.2)(4.0,-2.9)(4.3,-4.3)(4.6,-2.4)(4.9,-3.6)(5.2,-1.8)(5.5,-3.0)(5.8,-4.1)(6.2,-2.8)(7.0,-2.4)(6.1,-3.9)(3.0,-4.0)(2.0,-3.6)};
\addplot[rd] coordinates {(-10.7,2.43) (-0.1,1.19)};
\addplot[rd] coordinates {(0.25,-0.81) (7.5,-3.78)};
\end{axis}
\begin{axis}[base, at={(289pt,-702.5pt)}, height=69.5pt, width=82pt, xs=-5.8pt]
\zl
\addplot[gd] coordinates {(-6.4,6.8)(-8.2,3.6)(-7.6,4.4)(-6.9,4.0)(-6.3,3.3)(-5.8,2.6)(-5.5,4.7)(-5.2,3.8)(-5.0,5.6)(-4.8,2.9)(-4.6,4.3)(-4.4,5.5)(-4.3,3.4)(-4.2,2.2)(-4.1,4.9)(-4.0,3.8)(-3.9,5.9)(-3.8,2.7)(-3.7,4.2)(-3.6,3.1)(-3.5,5.2)(-3.4,1.9)(-3.3,3.7)(-3.2,4.6)(-3.1,2.5)(-3.0,5.7)(-2.9,3.3)(-2.8,4.0)(-2.7,1.6)(-2.6,2.8)(-2.5,4.9)(-2.4,3.6)(-2.3,2.1)(-2.2,4.3)(-2.1,3.0)(-2.0,1.3)(-1.9,5.2)(-1.8,2.5)(-1.7,3.9)(-1.6,1.8)(-1.5,3.3)(-1.4,4.6)(-1.3,2.2)(-1.2,1.2)(-1.1,3.0)(-1.0,4.1)(-0.9,2.0)(-0.8,3.5)(-0.7,1.4)(-0.6,2.7)(-0.5,1.9)(-0.4,3.6)(-0.3,1.1)(-0.2,2.3)(-5.6,1.9)(-4.9,1.5)(-3.5,1.2)(-2.5,0.8)(-1.1,0.6)(-3.9,6.4)(-3.0,6.2)(0.2,-0.6)(0.3,-1.8)(0.4,-3.0)(0.5,-1.1)(0.6,-2.4)(0.7,-3.7)(0.8,-0.5)(0.9,-1.7)(1.0,-2.9)(1.1,-4.1)(1.2,-1.0)(1.3,-2.2)(1.4,-3.4)(1.5,-0.7)(1.6,-1.9)(1.7,-3.0)(1.8,-4.3)(1.9,-1.3)(2.0,-2.5)(2.1,-3.6)(2.2,-0.8)(2.3,-2.0)(2.4,-3.2)(2.5,-4.4)(2.6,-1.5)(2.7,-2.7)(2.8,-3.8)(2.9,-0.9)(3.0,-2.2)(3.1,-3.4)(3.2,-1.6)(3.3,-2.9)(3.4,-4.1)(3.5,-1.0)(3.6,-2.4)(3.7,-3.5)(3.8,-1.8)(3.9,-2.9)(4.1,-1.4)(4.3,-2.6)(4.5,-3.6)(4.7,-2.0)(4.9,-3.1)(5.2,-2.3)(5.5,-3.9)(5.8,-2.7)(6.1,-4.5)(6.4,-3.4)(6.7,-4.9)(4.0,-4.5)(2.0,-4.6)};
\addplot[rd] coordinates {(-8.9,5.0) (-0.5,1.6)};
\addplot[rd] coordinates {(0.25,-1.6) (8.6,-3.7)};
\end{axis}
\begin{axis}[base, at={(403.3pt,-702.5pt)}, height=69.5pt, width=81pt, xs=-5.8pt]
\zl
\addplot[gd] coordinates {(-5.5,2.0)(-5.3,3.2)(-5.2,2.5)(-5.0,4.3)(-4.9,1.6)(-4.8,3.5)(-4.6,2.8)(-4.5,4.6)(-4.4,1.9)(-4.3,3.9)(-4.2,2.3)(-4.1,3.1)(-4.0,4.8)(-3.9,1.4)(-3.8,2.7)(-3.7,3.6)(-3.6,4.4)(-3.5,2.0)(-3.4,3.0)(-3.3,1.1)(-3.2,4.1)(-3.1,2.5)(-3.0,3.4)(-2.9,4.7)(-2.8,1.7)(-2.7,2.9)(-2.6,3.8)(-2.5,0.9)(-2.4,2.3)(-2.3,4.4)(-2.2,3.2)(-2.1,1.5)(-2.0,2.6)(-1.9,3.9)(-1.8,0.6)(-1.7,2.0)(-1.6,3.4)(-1.5,4.6)(-1.4,1.3)(-1.3,2.7)(-1.2,3.7)(-1.1,0.8)(-1.0,2.2)(-0.9,3.2)(-0.8,1.6)(-0.7,4.1)(-0.6,0.5)(-0.5,2.6)(-0.4,1.3)(-0.3,3.5)(-0.2,0.3)(-0.1,2.0)(-0.2,4.3)(-4.6,0.8)(-3.9,0.4)(-3.0,0.3)(-2.0,0.2)(-1.0,0.1)(-5.1,1.0)(0.0,-0.3)(0.1,-1.1)(0.2,-0.6)(0.3,-1.6)(0.4,-0.2)(0.5,-1.0)(0.6,-1.9)(0.7,-0.5)(0.8,-1.4)(0.9,-2.2)(1.0,-0.8)(1.1,-1.6)(1.2,-0.3)(1.3,-1.2)(1.4,-2.0)(1.5,-0.7)(1.6,-1.5)(1.7,-2.3)(1.8,-0.9)(1.9,-1.7)(2.0,-0.4)(2.1,-1.2)(2.2,-2.0)(2.3,-0.8)(2.4,-1.5)(2.6,-0.6)(2.8,-1.3)(3.0,-0.9)(3.2,-0.4)(3.5,-1.1)(3.8,-0.7)(4.1,-1.0)(4.4,-0.5)(4.9,-0.9)(5.5,-0.6)(6.0,-0.3)(0.5,-2.5)(1.0,-2.6)(1.8,-2.6)};
\addplot[rd] coordinates {(-5.5,3.0) (-0.23,1.1)};
\addplot[rd] coordinates {(0.23,-0.43) (6.0,-1.8)};
\end{axis}
\begin{axis}[base, at={(514.5pt,-702.5pt)}, height=69.5pt, width=84.5pt, xs=-5.8pt]
\zl
\addplot[gd] coordinates {(-9.8,7.3)(-8.9,4.6)(-8.0,5.8)(-7.4,4.5)(-7.0,6.6)(-6.6,3.5)(-6.3,9.0)(-6.1,5.4)(-5.9,8.5)(-5.7,4.3)(-5.5,6.3)(-5.3,3.2)(-5.1,5.0)(-4.9,7.3)(-4.7,4.1)(-4.5,2.6)(-4.4,5.7)(-4.2,3.6)(-4.1,6.8)(-3.9,4.7)(-3.8,2.0)(-3.7,3.1)(-3.5,5.4)(-3.4,4.0)(-3.3,1.4)(-3.2,6.4)(-3.1,2.7)(-3.0,8.5)(-2.9,4.6)(-2.8,3.4)(-2.7,5.9)(-2.6,2.1)(-2.5,4.1)(-2.4,3.0)(-2.3,5.1)(-2.2,1.2)(-2.1,3.7)(-2.0,2.5)(-1.9,4.5)(-1.8,6.0)(-1.7,1.8)(-1.6,3.3)(-1.5,2.4)(-1.4,4.1)(-1.3,0.9)(-1.2,2.9)(-1.1,5.2)(-1.0,1.6)(-0.9,3.5)(-0.8,2.2)(-0.7,4.6)(-0.6,0.6)(-0.5,2.8)(-0.4,1.5)(-0.3,3.8)(-0.2,1.0)(-0.1,2.3)(-0.2,5.0)(-0.4,6.4)(-4.0,1.0)(-5.0,1.9)(-6.6,2.3)(-2.9,0.3)(-1.9,0.2)(-7.7,3.1)(-5.6,7.7)(-3.6,7.0)(0.1,-0.4)(0.2,-1.5)(0.3,-2.6)(0.4,-0.8)(0.5,-1.9)(0.6,-3.1)(0.7,-1.1)(0.8,-2.3)(0.9,-0.5)(1.0,-3.5)(1.1,-1.5)(1.2,-2.7)(1.3,-4.0)(1.4,-1.0)(1.5,-2.1)(1.6,-3.2)(1.7,-1.6)(1.8,-2.6)(1.9,-3.8)(2.0,-0.9)(2.1,-2.0)(2.2,-3.0)(2.3,-1.4)(2.4,-2.4)(2.5,-3.6)(2.6,-1.8)(2.7,-2.8)(2.8,-0.9)(2.9,-2.1)(3.0,-3.3)(3.1,-1.5)(3.2,-2.5)(3.3,-3.8)(3.4,-1.2)(3.5,-2.9)(3.6,-2.0)(3.7,-3.5)(1.0,-5.4)(1.5,-4.6)(0.8,-4.3)(2.0,-4.4)};
\addplot[rd] coordinates {(-9.8,7.3) (-0.1,1.6)};
\addplot[rd] coordinates {(0.22,-0.7) (3.5,-2.6)};
\end{axis}
%%%%%%%%%%%%%%%% TEXT
\begin{scope}[x=0.5pt,y=-0.5pt]
% titles
\node[ttl] at (276,17.5) {The amplitude of the blink associated torsional shift (darkness I) corelates with the pre-torsional eye position};
\node[ttl] at (276,261.5) {The amplitude of the blink associated torsional shift (darkness II)\ \ corelates with the pre-torsional eye position};
\node[ttl] at (273,506.5) {The amplitude of the blink associated torsional shift (Optic flow I, II) corelates with the pre-torsional eye position};
\node[ttl] at (273,755.5) {The amplitude of fast phase tOKN (Optic flow I, II) corelates inconsistently with pre-torsional eye position};
\node[ttl, font=\fontsize{9.76}{12}\selectfont] at (273,998.5) {The amplitude of the blink associated torsional shift (Optic flow I, II) is not corelated with the pre-slow phase tOKN};
\node[ttl] at (273,1240.5) {The amplitude of fast phase tOKN\ \ (Optic flow I, II) corelates with the pre-slow phase tOKN amplitude};
% letters
\node[lt] at (249,41.5) {A};
\node[lt] at (249,294.5) {B};
\node[lt] at (249,538.5) {C};
\node[lt] at (248,782.5) {D};
\node[lt] at (249,1031.5) {E};
\node[lt] at (249,1267.5) {F};
% y labels
\foreach \yc in {112,360,605,848,1099,1341}{
  \node[yl] at (288,\yc) {Torsional shift};
  \node[yl] at (315,\yc-6) {(deg)};
}
% x labels
\node[xl] at (468,216) {Pre-blink torsional eye position (deg)};
\node[xl] at (468,460) {Pre-blink torsional eye position (deg)};
\node[xl] at (468,707) {Pre-blink torsional eye position (deg)};
\node[xl] at (468,953) {Pre-blink torsional eye position (deg)};
\node[xl] at (449,1197) {Pre-slow phase amplitude (deg)};
\node[xl] at (449,1446) {Pre-slow phase amplitude (deg)};
% subjects
\node[anchor=base, inner sep=0pt, font=\subf] at (437,154) {Subject A};
\node[anchor=base, inner sep=0pt, font=\subf] at (663,154) {Subject D};
\node[anchor=base, inner sep=0pt, font=\subf] at (887,154) {Subject M};
\node[anchor=base, inner sep=0pt, font=\subf] at (1113,154) {Subject S};
% annotations row A
\node[an] at (451,57) {slope=–0.33};\node[an] at (451,81) {p<0.005};\node[an] at (451,105) {r=–0.48};
\node[an] at (683,57) {slope=–0.2};\node[an] at (683,81) {p<0.005};\node[an] at (683,105) {r=–0.35};
\node[an] at (908,54) {slope=–0.18};\node[an] at (908,78) {p<0.005};\node[an] at (908,103) {r=–0.32};
\node[an] at (1133,55) {slope=–0.2};\node[an] at (1133,78) {p<0.005};\node[an] at (1133,104) {r=–0.29};
% row B
\node[an] at (451,302) {slope=–0.24};\node[an] at (451,325) {p<0.005};\node[an] at (451,349) {r=–0.64};
\node[an] at (678,302) {slope=–0.23};\node[an] at (678,325) {p<0.005};\node[an] at (678,349) {r=–0.43};
\node[an] at (908,298) {slope=–0.18};\node[an] at (908,323) {p<0.005};\node[an] at (908,348) {r=–0.5};
\node[an] at (1133,298) {slope=–0.22};\node[an] at (1133,323) {p<0.005};\node[an] at (1133,348) {r=–0.63};
% row C
\node[an] at (454,535) {slope=–0.69};\node[an] at (454,560) {p<0.005};\node[an] at (454,585) {r=–0.79};
\node[an] at (683,535) {slope=–0.72};\node[an] at (683,560) {p<0.005};\node[an] at (683,585) {r=–0.78};
\node[an] at (909,536) {slope=–0.49};\node[an] at (909,560) {p<0.005};\node[an] at (909,585) {r=–0.9};
\node[an] at (1120,537) {slope=–0.4};\node[an] at (1120,562) {p<0.005};\node[an] at (1120,587) {r=–0.76};
% row D
\node[an] at (443,790) {slope=–0.07};\node[an] at (438,815) {p<0.005};\node[an] at (443,840) {r=–0.21};
\node[an] at (669,790) {slope=–0.18};\node[an] at (669,815) {p<0.005};\node[an] at (669,840) {r=–0.22};
\node[an] at (900,790) {slope=–0.03};\node[an] at (900,815) {p=0.69};\node[an] at (900,840) {r=–0.078};
\node[an] at (1123,785) {slope=–0.22};\node[an] at (1123,810) {p<0.005};\node[an] at (1123,834) {r=–0.29};
% row E
\node[an] at (476,1040) {slope=0.03};\node[an] at (476,1064) {p=0.87};\node[an] at (476,1087) {r=0.01};
\node[an] at (696,1040) {slope=–0.1};\node[an] at (696,1064) {p=0.27};\node[an] at (696,1087) {r=–0.06};
\node[an] at (918,1040) {slope=–0.03};\node[an] at (918,1064) {p=0.87};\node[an] at (918,1088) {r=–0.01};
\node[an] at (1145,1039) {slope=–0.19};\node[an] at (1145,1064) {p=0.17};\node[an] at (1145,1088) {r=–0.1};
% row F
\node[an] at (446,1275) {slope=–0.28};\node[an] at (446,1300) {p<0.005};\node[an] at (446,1324) {r=–0.35};
\node[an] at (682,1275) {slope=–0.3};\node[an] at (682,1300) {p<0.005};\node[an] at (682,1324) {r=–0.23};
\node[an] at (902,1275) {slope=–0.29};\node[an] at (902,1300) {p<0.005};\node[an] at (902,1324) {r=–0.31};
\node[an] at (1131,1275) {slope=–0.51};\node[an] at (1131,1300) {p<0.005};\node[an] at (1131,1324) {r=–0.49};
\end{scope}
\end{tikzpicture}
\end{document}
